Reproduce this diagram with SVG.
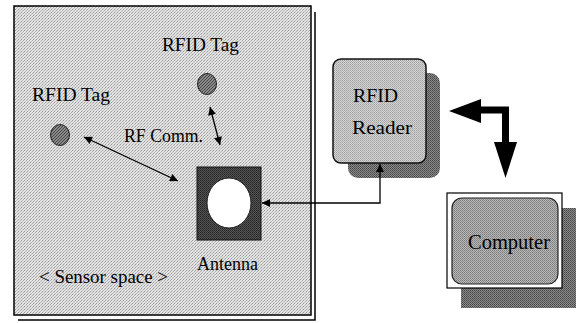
<svg xmlns="http://www.w3.org/2000/svg" width="581" height="323" viewBox="0 0 581 323">
<defs>
<pattern id="dots" width="3" height="3" patternUnits="userSpaceOnUse">
<rect width="3" height="3" fill="#e2e2e2"/>
<rect x="0" y="0" width="1" height="1" fill="#999"/>
<rect x="2" y="1" width="1" height="1" fill="#b0b0b0"/>
<rect x="1" y="2" width="1" height="1" fill="#bcbcbc"/>
</pattern>
<pattern id="reader" width="2" height="2" patternUnits="userSpaceOnUse">
<rect width="2" height="2" fill="#d4d4d4"/>
<rect width="1" height="1" fill="#9e9e9e"/>
<rect x="1" y="1" width="1" height="1" fill="#b4b4b4"/>
</pattern>
<pattern id="comp" width="2" height="2" patternUnits="userSpaceOnUse">
<rect width="2" height="2" fill="#b8b8b8"/>
<rect width="1" height="1" fill="#7a7a7a"/>
<rect x="1" y="1" width="1" height="1" fill="#8c8c8c"/>
</pattern>
<pattern id="shadow" width="2" height="2" patternUnits="userSpaceOnUse">
<rect width="2" height="2" fill="#8a8a8a"/>
<rect width="1" height="1" fill="#444"/>
<rect x="1" y="1" width="1" height="1" fill="#5a5a5a"/>
</pattern>
<pattern id="hatch" width="3" height="3" patternUnits="userSpaceOnUse">
<rect width="3" height="3" fill="#8a8a8a"/>
<path d="M0,3 L3,0" stroke="#333" stroke-width="0.8"/>
</pattern>
<pattern id="ant" width="2" height="2" patternUnits="userSpaceOnUse">
<rect width="2" height="2" fill="#555"/>
<rect width="1" height="1" fill="#222"/>
<rect x="1" y="1" width="1" height="1" fill="#333"/>
</pattern>
<marker id="ah" viewBox="0 0 10 10" refX="10" refY="5" markerWidth="10" markerHeight="8" markerUnits="userSpaceOnUse" orient="auto-start-reverse">
<path d="M0,0 L10,5 L0,10 Z" fill="#000"/>
</marker>
</defs>
<style>
text{font-family:"Liberation Serif","Times New Roman",serif;fill:#000}
.lbl{font-size:18px}
.conn{stroke:#000;stroke-width:1.3;fill:none}
.tag{fill:url(#hatch);stroke:#222;stroke-width:1}
</style>

<g id="sensor-space">
<path d="M315,12 V320 H18" fill="none" stroke="#000" stroke-width="1.5"/>
<rect x="14" y="6" width="297" height="309" fill="url(#dots)" stroke="#000" stroke-width="1.5"/>
<text x="39" y="283" class="lbl" textLength="129" lengthAdjust="spacingAndGlyphs">&lt; Sensor space &gt;</text>
</g>

<g id="tag-top">
<ellipse cx="207" cy="84" rx="9.5" ry="10.5" class="tag"/>
<text x="162" y="51" class="lbl" textLength="77" lengthAdjust="spacingAndGlyphs">RFID  Tag</text>
</g>

<g id="tag-left">
<ellipse cx="60" cy="135" rx="9.5" ry="10.5" class="tag"/>
<text x="32" y="101" class="lbl" textLength="78" lengthAdjust="spacingAndGlyphs">RFID Tag</text>
</g>

<g id="rf-comm">
<text x="124" y="142" class="lbl" textLength="79" lengthAdjust="spacingAndGlyphs">RF Comm.</text>
</g>

<g id="antenna">
<rect x="197" y="167" width="64" height="73" fill="url(#ant)" stroke="#111" stroke-width="1"/>
<ellipse cx="229" cy="203" rx="22" ry="25" fill="#fff" stroke="#222" stroke-width="1"/>
<text x="197" y="270" class="lbl" textLength="61" lengthAdjust="spacingAndGlyphs">Antenna</text>
</g>

<g id="rfid-reader">
<rect x="348" y="73" width="92" height="105" rx="10" fill="url(#shadow)"/>
<rect x="333" y="59" width="93" height="104" rx="8" fill="url(#reader)" stroke="#111" stroke-width="1.5"/>
<text x="353" y="102" font-size="19" textLength="45" lengthAdjust="spacingAndGlyphs">RFID</text>
<text x="352" y="134" font-size="19" textLength="60" lengthAdjust="spacingAndGlyphs">Reader</text>
</g>

<g id="computer">
<rect x="461" y="208" width="115" height="100" fill="url(#shadow)"/>
<rect x="447" y="193" width="115" height="95" fill="#fff" stroke="#000" stroke-width="1.2"/>
<rect x="452" y="198" width="106" height="86" rx="10" fill="url(#comp)" stroke="#222" stroke-width="1.2"/>
<text x="468" y="249" font-size="20" textLength="82" lengthAdjust="spacingAndGlyphs">Computer</text>
</g>

<g id="connectors">
<line x1="210" y1="107" x2="220" y2="145" class="conn" marker-start="url(#ah)" marker-end="url(#ah)"/>
<line x1="84" y1="137" x2="178" y2="181" class="conn" marker-start="url(#ah)" marker-end="url(#ah)"/>
<polyline points="380,164 380,203 262,203" class="conn" marker-start="url(#ah)" marker-end="url(#ah)"/>
<path d="M478,110 H505.5 V145" fill="none" stroke="#000" stroke-width="7" stroke-linejoin="miter"/>
<polygon points="449,111 481,99 481,123" fill="#000"/>
<polygon points="494,142 517,142 505.5,178" fill="#000"/>
</g>
</svg>
